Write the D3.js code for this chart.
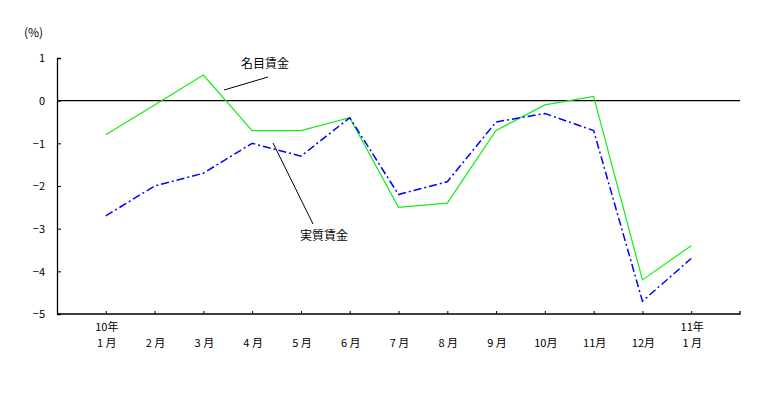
<!DOCTYPE html>
<html><head><meta charset="utf-8">
<script src="https://cdn.jsdelivr.net/npm/d3@7"></script>
<style>body{margin:0;background:#fff}svg{display:block}text{font-family:"Noto Sans CJK JP","DejaVu Sans",sans-serif;fill:#000}</style>
</head><body>
<script>
const months = ["10年1月","2月","3月","4月","5月","6月","7月","8月","9月","10月","11月","12月","11年1月"];
const monthLabels = [["10年","1 月"],["2 月"],["3 月"],["4 月"],["5 月"],["6 月"],["7 月"],["8 月"],["9 月"],["10月"],["11月"],["12月"],["11年","1 月"]];
const nominal = [-0.8,-0.1,0.6,-0.7,-0.7,-0.4,-2.5,-2.4,-0.7,-0.1,0.1,-4.2,-3.4];
const real = [-2.7,-2.0,-1.7,-1.0,-1.3,-0.4,-2.2,-1.9,-0.5,-0.3,-0.7,-4.7,-3.7];
const yTicks = [1,0,-1,-2,-3,-4,-5];

const W=759,H=399;
const svg=d3.select("body").append("svg").attr("width",W).attr("height",H);
const x=d3.scalePoint().domain(months).range([57,740]).padding(1);
const y=d3.scaleLinear().domain([-5,1]).range([314,58]);

// y axis
const ya=svg.append("g").attr("transform","translate(57,0)")
  .call(d3.axisRight(y).tickValues(yTicks).tickSize(4).tickFormat(d=>d<0?"−"+Math.abs(d):d));
ya.select(".domain").attr("stroke","#000").attr("stroke-width",1.3);
ya.selectAll(".tick line").attr("stroke","#000");
ya.selectAll(".tick text").attr("x",-12).attr("text-anchor","end").style("font-size","11px").attr("dy","0.35em");

// x axis
const xa=svg.append("g").attr("transform","translate(0,314)")
  .call(d3.axisTop(x).tickSize(3).tickFormat(""));
xa.select(".domain").attr("d","M57,0H740V-3").attr("stroke","#000").attr("stroke-width",1.3);
xa.selectAll(".tick line").attr("stroke","#000");
months.forEach((m,i)=>{
  const lines=monthLabels[i];
  lines.forEach((s,j)=>{
    svg.append("text").attr("text-anchor","middle").style("font-size","11px")
      .attr("x",x(m)+1).attr("y",lines.length===2&&j===0?331:347).text(s);
  });
});

// zero line
svg.append("line").attr("x1",57).attr("x2",740).attr("y1",y(0)).attr("y2",y(0)).attr("stroke","#000").attr("stroke-width",1.2);

const line=d3.line().x((d,i)=>x(months[i])).y(d=>y(d));
svg.append("path").datum(nominal).attr("d",line).attr("fill","none").attr("stroke","#11ee11").attr("stroke-width",1.2);
svg.append("path").datum(real).attr("d",line).attr("fill","none").attr("stroke","#0000ff").attr("stroke-width",1.5).attr("stroke-dasharray","8,3,2,3");

// unit
svg.append("text").attr("x",24).attr("y",37).style("font-size","12px").text("(%)");

// annotations
svg.append("line").attr("x1",224).attr("y1",90).attr("x2",268).attr("y2",77).attr("stroke","#000");
svg.append("text").attr("x",241).attr("y",68).style("font-size","12px").text("名目賃金");
svg.append("line").attr("x1",273).attr("y1",143).attr("x2",313).attr("y2",224).attr("stroke","#000");
svg.append("text").attr("x",300).attr("y",240).style("font-size","12px").text("実質賃金");
</script>
</body></html>
